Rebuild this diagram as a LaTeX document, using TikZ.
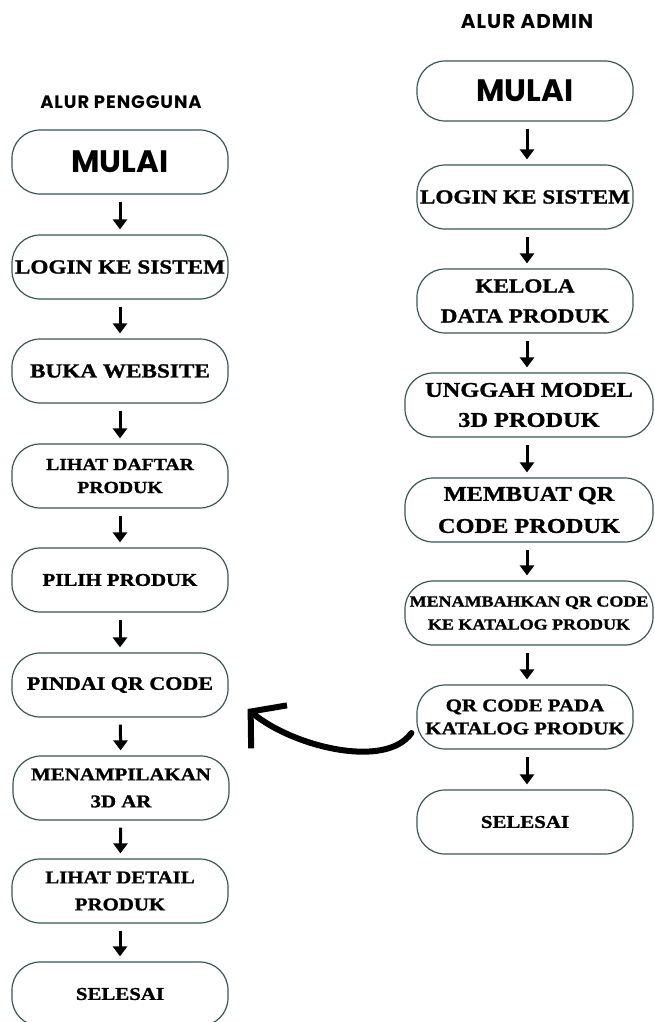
\documentclass[tikz,border=0pt]{standalone}
\usepackage{fontspec}
\setmainfont{Liberation Serif}[BoldFeatures={FakeStretch=1.16, FakeBold=1.2}]
\newfontfamily\headfont{Poppins}[LetterSpace=5]
\newfontfamily\mulaifont{Poppins}
\usetikzlibrary{arrows.meta}
\definecolor{boxline}{HTML}{3A5555}
\tikzstyle{flowbox}=[draw=boxline, line width=1.2pt, rounded corners=28pt, minimum width=216pt, minimum height=64pt, align=center, inner sep=0pt, font=\bfseries]
\tikzstyle{widebox}=[flowbox, minimum width=248pt]
\tikzstyle{heading}=[font=\headfont\bfseries\fontsize{18}{20}\selectfont]
\tikzstyle{flowarrow}=[-{Triangle[width=14pt,length=10pt]}, line width=3pt, shorten <= 7pt, shorten >= 5pt]
\tikzstyle{curvearrow}=[-{Straight Barb[length=24pt,width=56pt,line width=6pt]}, line width=6pt, line cap=round]

\begin{document}
\begin{tikzpicture}[x=1pt, y=-1pt]
				\useasboundingbox (0,0) rectangle (655,1022);

				% alur pengguna
				\node[heading] (headuser) at (121,102) {ALUR PENGGUNA};
				\node[flowbox, font=\mulaifont\bfseries\fontsize{31}{34}\selectfont] (mulaiuser) at (120,162) {MULAI};
				\node[flowbox, font=\bfseries\fontsize{20}{24}\selectfont] (loginuser) at (120,267) {LOGIN KE SISTEM};
				\node[flowbox, font=\bfseries\fontsize{20}{24}\selectfont] (buka) at (120,371) {BUKA WEBSITE};
				\node[flowbox, font=\bfseries\fontsize{17}{23}\selectfont] (daftar) at (120,476) {LIHAT DAFTAR\\PRODUK};
				\node[flowbox, font=\bfseries\fontsize{18}{22}\selectfont] (pilih) at (120,580) {PILIH PRODUK};
				\node[flowbox, font=\bfseries\fontsize{19}{22}\selectfont] (pindai) at (120,685) {PINDAI QR CODE};
				\node[flowbox, font=\bfseries\fontsize{18}{27}\selectfont] (tampil) at (121,788) {MENAMPILAKAN\\3D AR};
				\node[flowbox, font=\bfseries\fontsize{18}{27}\selectfont] (detail) at (120,891) {LIHAT DETAIL\\PRODUK};
				\node[flowbox, font=\bfseries\fontsize{18}{22}\selectfont] (selesaiuser) at (120,994) {SELESAI};

				\draw[flowarrow] (mulaiuser) -- (loginuser);
				\draw[flowarrow] (loginuser) -- (buka);
				\draw[flowarrow] (buka) -- (daftar);
				\draw[flowarrow] (daftar) -- (pilih);
				\draw[flowarrow] (pilih) -- (pindai);
				\draw[flowarrow] (pindai) -- (tampil);
				\draw[flowarrow] (tampil) -- (detail);
				\draw[flowarrow] (detail) -- (selesaiuser);

				% alur admin
				\coordinate (adminaxis) at (527,0);
				\node[heading, font=\headfont\bfseries\fontsize{20}{23}\selectfont] (headadmin) at (527,22) {ALUR ADMIN};
				\node[flowbox, minimum height=60pt, font=\mulaifont\bfseries\fontsize{31}{34}\selectfont] (mulaiadmin) at (525,91) {MULAI};
				\node[flowbox, font=\bfseries\fontsize{20}{24}\selectfont] (loginadmin) at (525,197) {LOGIN KE SISTEM};
				\node[flowbox, font=\bfseries\fontsize{20}{30}\selectfont] (kelola) at (525,301) {KELOLA\\DATA PRODUK};
				\node[widebox, font=\bfseries\fontsize{21}{30}\selectfont] (unggah) at (529,405) {UNGGAH MODEL\\3D PRODUK};
				\node[widebox, font=\bfseries\fontsize{21}{32}\selectfont] (membuat) at (529,510) {MEMBUAT QR\\CODE PRODUK};
				\node[widebox, font=\bfseries\fontsize{15.5}{23}\selectfont] (tambah) at (529,613) {MENAMBAHKAN QR CODE\\KE KATALOG PRODUK};
				\node[flowbox, font=\bfseries\fontsize{18}{23}\selectfont] (qrpada) at (525,717) {QR CODE PADA\\KATALOG PRODUK};
				\node[flowbox, font=\bfseries\fontsize{18}{22}\selectfont] (selesaiadmin) at (525,822) {SELESAI};

				\draw[flowarrow] (mulaiadmin.south -| adminaxis) -- (loginadmin.north -| adminaxis);
				\draw[flowarrow] (loginadmin.south -| adminaxis) -- (kelola.north -| adminaxis);
				\draw[flowarrow] (kelola.south -| adminaxis) -- (unggah.north -| adminaxis);
				\draw[flowarrow] (unggah.south -| adminaxis) -- (membuat.north -| adminaxis);
				\draw[flowarrow] (membuat.south -| adminaxis) -- (tambah.north -| adminaxis);
				\draw[flowarrow] (tambah.south -| adminaxis) -- (qrpada.north -| adminaxis);
				\draw[flowarrow] (qrpada.south -| adminaxis) -- (selesaiadmin.north -| adminaxis);

				% panah lengkung
				\coordinate (curvestart) at ([xshift=-5pt, yshift=-16pt]qrpada.west);
				\coordinate (curveend) at ([xshift=19pt, yshift=-24pt]pindai.east);
				\draw[curvearrow] (curvestart) .. controls (385,770) and (292,746) .. (curveend);
			\end{tikzpicture}
\end{document}
